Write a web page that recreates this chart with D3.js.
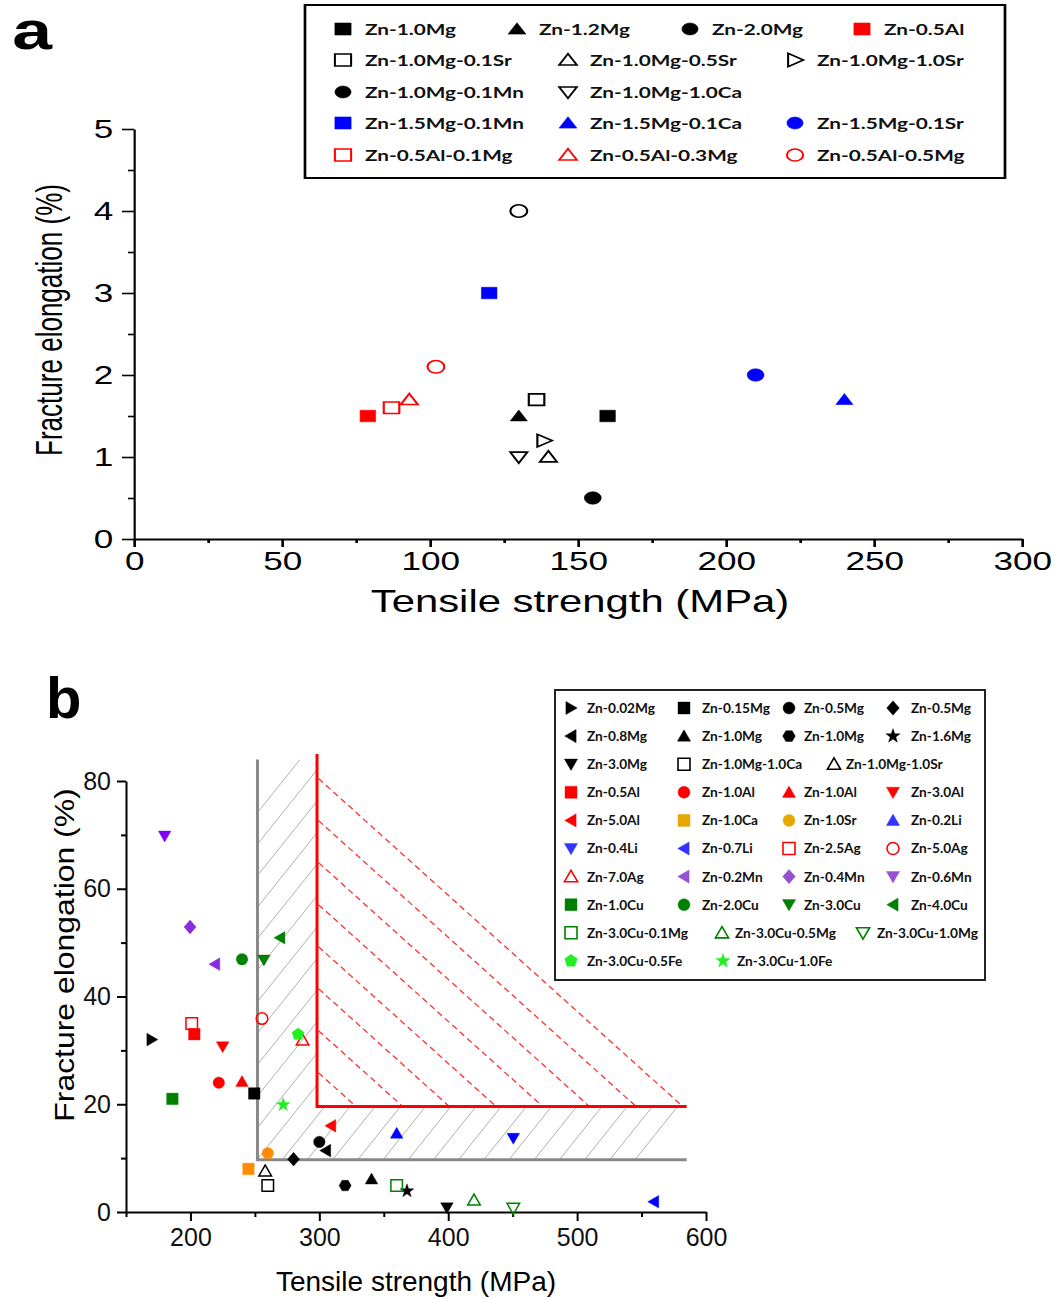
<!DOCTYPE html>
<html><head><meta charset="utf-8">
<script src="https://cdnjs.cloudflare.com/ajax/libs/d3/7.8.5/d3.min.js"></script>
<style>body{margin:0;background:#fff} svg{display:block}</style>
</head><body>
<svg id="chart" width="1063" height="1299"></svg>
<script>
// ================= DATA =================
// Panel a
const aNames = ["Zn-1.0Mg","Zn-1.2Mg","Zn-2.0Mg","Zn-0.5Al","Zn-1.0Mg-0.1Sr","Zn-1.0Mg-0.5Sr","Zn-1.0Mg-1.0Sr","Zn-1.0Mg-0.1Mn","Zn-1.0Mg-1.0Ca","Zn-1.5Mg-0.1Mn","Zn-1.5Mg-0.1Ca","Zn-1.5Mg-0.1Sr","Zn-0.5Al-0.1Mg","Zn-0.5Al-0.3Mg","Zn-0.5Al-0.5Mg"];
const aStrength = [160,130,155,79,136,140,138.5,130,130,120,240,210,87,93,102];
const aElong = [1.5,1.5,0.5,1.5,1.7,1.0,1.2,4.0,1.0,3.0,1.7,2.0,1.6,1.7,2.1];
const aXTicks = [0,50,100,150,200,250,300];
const aYTicks = [0,1,2,3,4,5];

// Panel b
const bNames = ["Zn-0.02Mg","Zn-0.15Mg","Zn-0.5Mg","Zn-0.5Mg","Zn-0.8Mg","Zn-1.0Mg","Zn-1.0Mg","Zn-1.6Mg","Zn-3.0Mg","Zn-1.0Mg-1.0Ca","Zn-1.0Mg-1.0Sr","Zn-0.5Al","Zn-1.0Al","Zn-1.0Al","Zn-3.0Al","Zn-5.0Al","Zn-1.0Ca","Zn-1.0Sr","Zn-0.2Li","Zn-0.4Li","Zn-0.7Li","Zn-2.5Ag","Zn-5.0Ag","Zn-7.0Ag","Zn-0.2Mn","Zn-0.4Mn","Zn-0.6Mn","Zn-1.0Cu","Zn-2.0Cu","Zn-3.0Cu","Zn-4.0Cu","Zn-3.0Cu-0.1Mg","Zn-3.0Cu-0.5Mg","Zn-3.0Cu-1.0Mg","Zn-3.0Cu-0.5Fe","Zn-3.0Cu-1.0Fe"];
const bStrength = [170,249.5,300,280,305,340.5,320,368,399,260,258,203,222,240,225,309,245,260,360,450.5,559.5,201,255.5,287,219,199.7,180,186,240,257,269.5,360,420,450.5,283.5,272];
const bElong = [32,22,13,9.8,11.4,6.1,4.9,3.9,0.8,4.9,7.6,33,24,24.2,30.7,16,8,10.9,14.6,13.7,1.9,35,35.9,31.9,46,52.9,69.8,21,46.9,46.8,50.9,4.9,2.2,0.7,33,19.9];
const bXTicks = [200,300,400,500,600];
const bXMinor = [150,250,350,450,550];
const bYTicks = [0,20,40,60,80];
const bYMinor = [10,30,50,70];
// guide region (MPa, %)
const grayGuideX = 252, grayGuideY = 9.7, grayTop = 84, guideRight = 585;
const redGuideX = 298.2, redGuideY = 19.6, redTop = 85;
const redDashStarts = [80.7,72.9,65.1,57.3,49.5,41.7,33.9,26.1];

// ================= STYLES =================
const aShape = ["square","triUp","circle","square","square","triUp","triRight","circle","triDown","square","triUp","circle","square","triUp","circle"];
const aColor = ["#000","#000","#000","#f00","#000","#000","#000","#000","#000","#00f","#00f","#00f","#f00","#f00","#f00"];
const aOpenPlot = [0,0,0,0,1,1,1,1,1,0,0,0,1,1,1];
const aOpenLeg  = [0,0,0,0,1,1,1,0,1,0,0,0,1,1,1];
const aLegRow = [0,0,0,0,1,1,1,2,2,3,3,3,4,4,4];
const aLegCol = [0,1,2,3,0,1,2,0,1,0,1,2,0,1,2];
const aLegColX0 = [343,517,690,862];
const aLegColX = [343,568,795];
const aLegRowY = [29,60,92,123,155];

const K="#000", R="#f00", OR="#ff8c00", BL="#0000ff", PU="#8a2be2", DG="#008000", LG="#22ee22";
const bShape = ["triRight","square","circle","diamond","triLeft","triUp","hexagon","star","triDown","square","triUp","square","circle","triUp","triDown","triLeft","square","circle","triUp","triDown","triLeft","square","circle","triUp","triLeft","diamond","triDown","square","circle","triDown","triLeft","square","triUp","triDown","pentagon","star"];
const bColor = [K,K,K,K,K,K,K,K,K,K,K,R,R,R,R,R,OR,OR,BL,BL,BL,R,R,R,PU,PU,"#8000ff",DG,DG,DG,DG,DG,DG,DG,LG,LG];
const bLegColor = bColor.map(c => c===OR ? "#e6a800" : c===BL ? "#3333ff" : (c===PU||c==="#8000ff") ? "#9650d2" : c);
const bOpen = bNames.map((d,i)=>[9,10,21,22,23,31,32,33].includes(i)?1:0);
const bLegRow = [0,0,0,0,1,1,1,1,2,2,2,3,3,3,3,4,4,4,4,5,5,5,5,6,6,6,6,7,7,7,7,8,8,8,9,9];
const bLegCol = [0,1,2,3,0,1,2,3,0,1,2,0,1,2,3,0,1,2,3,0,1,2,3,0,1,2,3,0,1,2,3,0,1,2,0,1];
const bLegMX = {def:[571,684,789,893], 2:[571,684,834], 8:[571,722,863], 9:[571,723]};
const bLegTX = {def:[587,702,804,911], 2:[587,702,846], 8:[587,735,877], 9:[587,737]};

// ================= HELPERS =================
const lineGen = d3.line().curve(d3.curveLinearClosed);
function poly(n, r, rot){ return d3.range(n).map(i=>{const a=rot+i*2*Math.PI/n; return [r*Math.cos(a), r*Math.sin(a)];}); }
function shapePath(type, s){
  const h = s/2;
  switch(type){
    case "square": return lineGen([[-h,-h],[h,-h],[h,h],[-h,h]]);
    case "circle": { const p=d3.path(); p.moveTo(h,0); p.arc(0,0,h,0,2*Math.PI); p.closePath(); return p.toString(); }
    case "triUp": return lineGen([[-1.1*h,0.85*h],[1.1*h,0.85*h],[0,-1.05*h]]);
    case "triDown": return lineGen([[-1.1*h,-0.85*h],[1.1*h,-0.85*h],[0,1.05*h]]);
    case "triLeft": return lineGen([[0.85*h,-1.1*h],[0.85*h,1.1*h],[-1.05*h,0]]);
    case "triRight": return lineGen([[-0.85*h,-1.1*h],[-0.85*h,1.1*h],[1.05*h,0]]);
    case "diamond": return lineGen([[0,-1.2*h],[1.05*h,0],[0,1.2*h],[-1.05*h,0]]);
    case "hexagon": return lineGen(poly(6,1.05*h,0));
    case "pentagon": return lineGen(poly(5,1.1*h,-Math.PI/2));
    case "star": return lineGen(d3.range(10).map(i=>{const a=-Math.PI/2+i*Math.PI/5, r=i%2?0.5*h:1.25*h; return [r*Math.cos(a), r*Math.sin(a)];}));
  }
}

const svg = d3.select("#chart");
svg.append("rect").attr("width",1063).attr("height",1299).attr("fill","#fff");
const FONT = "'Liberation Sans', Arial, sans-serif";
const LFONT = "Lato, 'Open Sans', sans-serif";

// ================= PANEL A =================
const SX = 1.35;
const gA = svg.append("g").attr("transform",`scale(${SX},1)`);
const xA = d3.scaleLinear().domain([0,300]).range([134/SX, 1022/SX]);
const yA = d3.scaleLinear().domain([0,5]).range([539,129]);

gA.append("text").attr("x",9).attr("y",49).attr("font-family",FONT).attr("font-weight","bold")
  .attr("font-size",53).text("a");

function styleAxis(g, sw){
  g.select(".domain").attr("stroke","#000").attr("stroke-width",sw);
  g.selectAll(".tick line").attr("stroke","#000").attr("stroke-width",sw);
}
const axAx = gA.append("g").attr("transform",`translate(0,${yA(0)})`)
  .call(d3.axisBottom(xA).tickValues(aXTicks).tickFormat(d3.format("d")).tickSize(8).tickSizeOuter(0).tickPadding(5));
axAx.selectAll("text").attr("font-family",FONT).attr("font-size",26).attr("fill","#000");
styleAxis(axAx,2);
const axAxm = gA.append("g").attr("transform",`translate(0,${yA(0)})`)
  .call(d3.axisBottom(xA).tickValues(d3.range(25,300,50)).tickSize(4).tickSizeOuter(0).tickFormat(""));
styleAxis(axAxm,2); axAxm.select(".domain").remove();

const ayAx = gA.append("g").attr("transform",`translate(${xA(0)},0)`)
  .call(d3.axisLeft(yA).tickValues(aYTicks).tickFormat(d3.format("d")).tickSize(12/SX).tickSizeOuter(0).tickPadding(6.5));
ayAx.selectAll("text").attr("font-family",FONT).attr("font-size",26).attr("fill","#000");
styleAxis(ayAx,1.6);
const ayAxm = gA.append("g").attr("transform",`translate(${xA(0)},0)`)
  .call(d3.axisLeft(yA).tickValues(d3.range(0.5,5,1)).tickSize(6/SX).tickSizeOuter(0).tickFormat(""));
styleAxis(ayAxm,1.6); ayAxm.select(".domain").remove();

gA.append("text").attr("x",580/SX).attr("y",612).attr("text-anchor","middle")
  .attr("font-family",FONT).attr("font-size",31).text("Tensile strength (MPa)");
gA.append("text").attr("transform",`translate(${62/SX},320) rotate(-90) scale(0.93,1)`).attr("text-anchor","middle")
  .attr("font-family",FONT).attr("font-size",28).text("Fracture elongation (%)");

// points a
gA.append("g").selectAll("path").data(aNames).join("path")
  .attr("transform",(d,i)=>`translate(${xA(aStrength[i])},${yA(aElong[i])})`)
  .attr("d",(d,i)=>shapePath(aShape[i], aShape[i]==="circle"?12.5:11.5))
  .attr("fill",(d,i)=>aOpenPlot[i]?"none":aColor[i])
  .attr("stroke",(d,i)=>aColor[i]).attr("stroke-width",(d,i)=>aOpenPlot[i]?1.6:0.5);

// legend a
gA.append("rect").attr("x",305/SX).attr("y",5).attr("width",700/SX).attr("height",173)
  .attr("fill","#fff").attr("stroke","#000").attr("stroke-width",2);
const legA = gA.append("g").selectAll("g").data(aNames).join("g")
  .attr("transform",(d,i)=>{const cx=(aLegRow[i]===0?aLegColX0:aLegColX)[aLegCol[i]]; return `translate(${cx/SX},${aLegRowY[aLegRow[i]]})`;});
legA.append("path").attr("d",(d,i)=>shapePath(aShape[i], 12))
  .attr("fill",(d,i)=>aOpenLeg[i]?"none":aColor[i])
  .attr("stroke",(d,i)=>aColor[i]).attr("stroke-width",(d,i)=>aOpenLeg[i]?1.5:0.5);
legA.append("text").attr("x",22/SX).attr("dy","0.36em").attr("font-family",LFONT).attr("font-weight",700)
  .attr("font-size",15.4).attr("fill","#111").text(d=>d);

// ================= PANEL B =================
const gB = svg.append("g");
const xB = d3.scaleLinear().domain([150,600]).range([126,706]);
const yB = d3.scaleLinear().domain([0,80]).range([1212,781]);

gB.append("text").attr("x",46).attr("y",718).attr("font-family",FONT).attr("font-weight","bold")
  .attr("font-size",58).text("b");

// hatch region
const clip = svg.append("defs").append("clipPath").attr("id","hatchClip");
clip.append("rect").attr("x",xB(grayGuideX)).attr("y",yB(grayTop)).attr("width",xB(redGuideX)-xB(grayGuideX)).attr("height",yB(grayGuideY)-yB(grayTop));
clip.append("rect").attr("x",xB(redGuideX)).attr("y",yB(redGuideY)).attr("width",xB(guideRight)-xB(redGuideX)).attr("height",yB(grayGuideY)-yB(redGuideY));
const hb = yB(grayGuideY), ht = yB(grayTop);
const hatchStarts = d3.range(-26,1).map(k=>635+25.2*k);
gB.append("g").attr("clip-path","url(#hatchClip)").selectAll("line").data(hatchStarts).join("line")
  .attr("x1",d=>d).attr("y1",hb).attr("x2",d=>d+0.8*(hb-ht)).attr("y2",ht)
  .attr("stroke","#9a9a9a").attr("stroke-width",0.8);

// red dashed guides
const slopePx = 0.9;
gB.append("g").selectAll("line").data(redDashStarts).join("line")
  .attr("x1",xB(redGuideX)+1.5).attr("y1",d=>yB(d)+1.35)
  .attr("x2",d=>xB(redGuideX)+(yB(redGuideY)-yB(d))/slopePx).attr("y2",yB(redGuideY))
  .attr("stroke","#ff3030").attr("stroke-width",1.3).attr("stroke-dasharray","6,4");

// solid guides
gB.append("path").attr("d",`M${xB(grayGuideX)},${yB(grayTop)}V${yB(grayGuideY)}H${xB(guideRight)}`)
  .attr("fill","none").attr("stroke","#888").attr("stroke-width",3);
gB.append("path").attr("d",`M${xB(redGuideX)},${yB(redTop)}V${yB(redGuideY)}H${xB(guideRight)}`)
  .attr("fill","none").attr("stroke","#ff0000").attr("stroke-width",3);

// axes b
const bxAx = gB.append("g").attr("transform",`translate(0,${yB(0)})`)
  .call(d3.axisBottom(xB).tickValues(bXTicks).tickSize(9).tickSizeOuter(0).tickPadding(7));
bxAx.selectAll("text").attr("font-family",FONT).attr("font-size",25).attr("fill","#111");
styleAxis(bxAx,2);
const bxAxm = gB.append("g").attr("transform",`translate(0,${yB(0)})`)
  .call(d3.axisBottom(xB).tickValues(bXMinor).tickSize(5).tickFormat(""));
styleAxis(bxAxm,2); bxAxm.select(".domain").remove();
const byAx = gB.append("g").attr("transform",`translate(${xB(150)},0)`)
  .call(d3.axisLeft(yB).tickValues(bYTicks).tickSize(9).tickSizeOuter(0).tickPadding(6));
byAx.selectAll("text").attr("font-family",FONT).attr("font-size",25).attr("fill","#111");
styleAxis(byAx,2);
const byAxm = gB.append("g").attr("transform",`translate(${xB(150)},0)`)
  .call(d3.axisLeft(yB).tickValues(bYMinor).tickSize(5).tickFormat(""));
styleAxis(byAxm,2); byAxm.select(".domain").remove();

gB.append("text").attr("x",416).attr("y",1291).attr("text-anchor","middle")
  .attr("font-family",FONT).attr("font-size",28).text("Tensile strength (MPa)");
gB.append("text").attr("transform",`translate(74,955) rotate(-90) scale(1.12,1)`).attr("text-anchor","middle")
  .attr("font-family",FONT).attr("font-size",28.5).text("Fracture elongation (%)");

// points b
gB.append("g").selectAll("path").data(bNames).join("path")
  .attr("transform",(d,i)=>`translate(${xB(bStrength[i])},${yB(bElong[i])})`)
  .attr("d",(d,i)=>shapePath(bShape[i], 11.5))
  .attr("fill",(d,i)=>bOpen[i]?"none":bColor[i])
  .attr("stroke",(d,i)=>bColor[i]).attr("stroke-width",(d,i)=>bOpen[i]?1.5:0.4);

// legend b
gB.append("rect").attr("x",555).attr("y",690).attr("width",430).attr("height",290)
  .attr("fill","#fff").attr("stroke","#222").attr("stroke-width",2);
const legB = gB.append("g").selectAll("g").data(bNames).join("g")
  .attr("transform",(d,i)=>{const r=bLegRow[i]; const mx=(bLegMX[r]||bLegMX.def)[bLegCol[i]]; return `translate(${mx},${708+28.1*r})`;});
legB.append("path").attr("d",(d,i)=>shapePath(bShape[i], 12))
  .attr("fill",(d,i)=>bOpen[i]?"none":bLegColor[i])
  .attr("stroke",(d,i)=>bLegColor[i]).attr("stroke-width",(d,i)=>bOpen[i]?1.6:0.4);
legB.append("text")
  .attr("x",(d,i)=>{const r=bLegRow[i]; return (bLegTX[r]||bLegTX.def)[bLegCol[i]] - (bLegMX[r]||bLegMX.def)[bLegCol[i]];})
  .attr("dy","0.36em").attr("font-family",LFONT).attr("font-weight",700)
  .attr("font-size",13.7).attr("fill","#111").text(d=>d);
</script>
</body></html>
